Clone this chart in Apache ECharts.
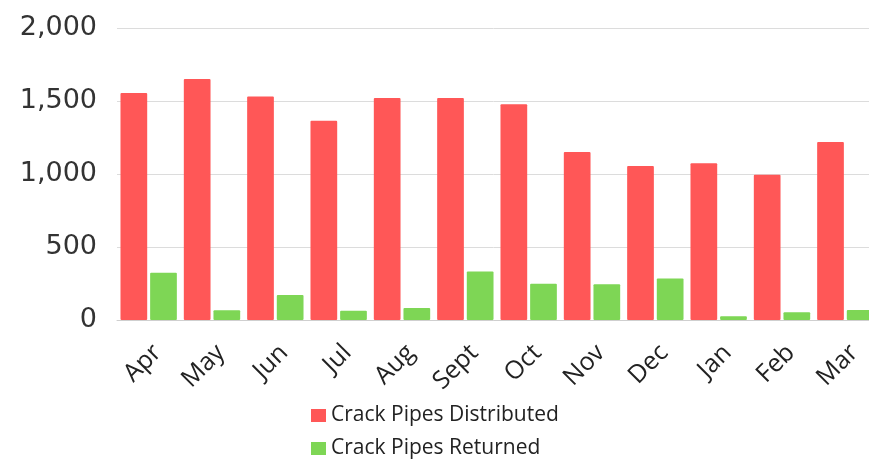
<!DOCTYPE html>
<html>
<head>
<meta charset="utf-8">
<script src="https://cdn.jsdelivr.net/npm/echarts@6/dist/echarts.min.js"></script>
<style>
  html, body { margin: 0; padding: 0; background: #fff; }
  #chart { width: 869px; height: 460px; }
</style>
</head>
<body>
<div id="chart"></div>
<script>
var months = ['Apr', 'May', 'Jun', 'Jul', 'Aug', 'Sept', 'Oct', 'Nov', 'Dec', 'Jan', 'Feb', 'Mar'];
var distributed = [1555, 1650, 1530, 1365, 1520, 1520, 1477, 1150, 1055, 1073, 995, 1220];
var returned = [324, 66, 172, 64, 82, 332, 249, 245, 285, 25, 53, 68];
var yTicks = [0, 500, 1000, 1500, 2000];

var chart = echarts.init(document.getElementById('chart'));

chart.setOption({
  animation: false,
  // plot runs past the right edge, the Mar green bar is clipped
  grid: { left: 117, width: 760, top: 28, height: 292, outerBoundsMode: 'none' },
  legend: {
    orient: 'vertical',
    left: 306,
    top: 400,
    height: 80,
    itemWidth: 15,
    itemHeight: 13,
    itemGap: 12,
    icon: 'rect',
    textStyle: { fontFamily: 'Open Sans', fontSize: 21, color: '#222' },
    data: ['Crack Pipes Distributed', 'Crack Pipes Returned']
  },
  xAxis: {
    type: 'category',
    data: months,
    axisTick: { show: false },
    axisLine: { lineStyle: { color: '#cfcfcf' } },
    axisLabel: {
      rotate: 45,
      margin: 20,
      verticalAlign: 'top',
      interval: 0,
      fontFamily: 'Open Sans',
      fontSize: 25,
      color: '#222'
    }
  },
  yAxis: {
    type: 'value',
    min: yTicks[0],
    max: yTicks[yTicks.length - 1],
    interval: 500,
    axisLine: { show: false },
    axisTick: { show: false },
    splitLine: { lineStyle: { color: '#dcdcdc' } },
    axisLabel: {
      margin: 20,
      fontFamily: 'DejaVu Sans',
      fontSize: 27,
      color: '#333',
      formatter: function (v) { return v.toLocaleString('en-US'); }
    }
  },
  series: [
    {
      name: 'Crack Pipes Distributed',
      type: 'bar',
      data: distributed,
      barGap: '11%',
      barCategoryGap: '11%',
      itemStyle: { color: '#ff5757', borderRadius: 1 }
    },
    {
      name: 'Crack Pipes Returned',
      type: 'bar',
      data: returned,
      itemStyle: { color: '#7ed655', borderRadius: 1 }
    }
  ]
});
</script>
</body>
</html>
